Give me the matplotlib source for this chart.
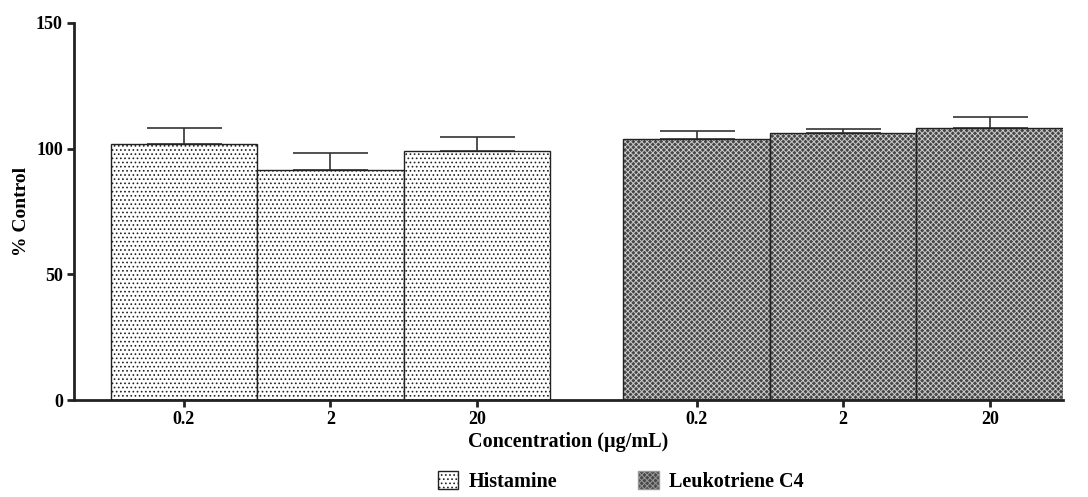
import matplotlib
matplotlib.use("Agg")
import matplotlib.pyplot as plt
import numpy as np
from matplotlib.patches import Patch

plt.rcParams['font.family'] = ['Liberation Serif', 'DejaVu Serif']
plt.rcParams['font.weight'] = 'bold'
plt.rcParams['hatch.linewidth'] = 0.7

conc_labels = ['0.2', '2', '20', '0.2', '2', '20']
histamine = [101.9, 91.5, 99.1]
histamine_err = [6.3, 6.8, 5.6]
ltc4 = [103.9, 106.2, 108.2]
ltc4_err = [3.1, 1.6, 4.4]

pos_h = np.array([0, 1, 2])
pos_l = np.array([3.5, 4.5, 5.5])

fig = plt.figure(figsize=(10.88, 4.97), dpi=100)
ax = fig.add_axes([0.068, 0.195, 0.909, 0.759])

ax.bar(pos_h, histamine, width=1.0, color='white', edgecolor='#222222',
       hatch='....', linewidth=1.0, zorder=2)
# checkered fill: dark base with light cross hatch, then the outline on top
ax.bar(pos_l, ltc4, width=1.0, color='#474747', edgecolor='#cccccc',
       hatch='xxxxxx', linewidth=0, zorder=2)
ax.bar(pos_l, ltc4, width=1.0, color='none', edgecolor='#222222',
       linewidth=1.0, zorder=3)

# upward error bars only
ax.errorbar(pos_h, histamine, yerr=[np.zeros(3), histamine_err], fmt='none',
            ecolor='#333333', elinewidth=1.2, capsize=27, capthick=1.2, zorder=1)
ax.errorbar(pos_l, ltc4, yerr=[np.zeros(3), ltc4_err], fmt='none',
            ecolor='#333333', elinewidth=1.2, capsize=27, capthick=1.2, zorder=1)

ax.set_xlim(-0.75, 6.0)
ax.set_ylim(0, 150)
ax.set_yticks([0, 50, 100, 150])
ax.set_xticks(np.concatenate([pos_h, pos_l]))
ax.set_xticklabels(conc_labels)

for s in ['top', 'right']:
    ax.spines[s].set_visible(False)
for s in ['left', 'bottom']:
    ax.spines[s].set_linewidth(2.0)
    ax.spines[s].set_color('#222222')
ax.tick_params(axis='both', width=2.0, length=5, labelsize=13, color='#222222', pad=3)
for lbl in ax.get_xticklabels() + ax.get_yticklabels():
    lbl.set_fontweight('bold')

ax.set_ylabel('% Control', fontsize=14, fontweight='bold', labelpad=4)
ax.set_xlabel('Concentration (µg/mL)', fontsize=14.5, fontweight='bold', labelpad=3)

handles = [Patch(facecolor='white', edgecolor='#222222', hatch='....', label='Histamine'),
           Patch(facecolor='#474747', edgecolor='#999999', hatch='xxxxxx', label='Leukotriene C4')]
fig.legend(handles=handles, loc='lower left', bbox_to_anchor=(0.386, -0.027), ncol=2,
           frameon=False, handlelength=1.0, handleheight=1.0, handletextpad=0.5,
           columnspacing=4.05, prop={'weight': 'bold', 'size': 14.5})

fig.savefig('out.png', dpi=100)
